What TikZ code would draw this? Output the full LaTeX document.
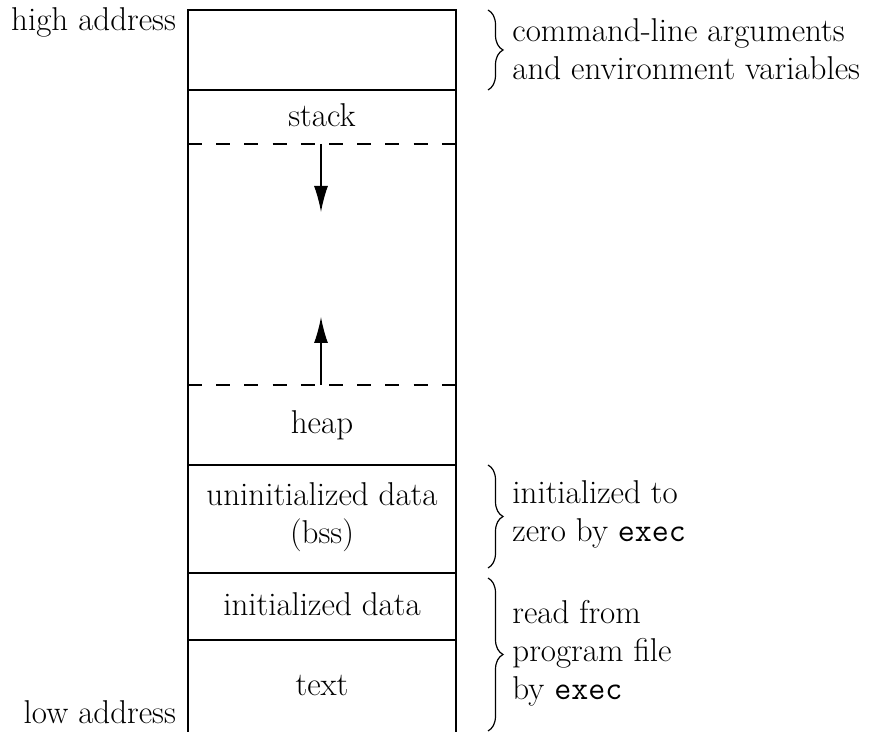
\documentclass[tikz,border=0pt]{standalone}
\usetikzlibrary{arrows.meta,decorations.pathreplacing,positioning}
\begin{document}
\begin{tikzpicture}[x=0.5pt,y=-0.5pt,font=\fontsize{16.5}{19}\selectfont,
  seg/.style={align=center},
  side/.style={align=left,anchor=west,inner sep=1pt},
  wall/.style={line width=0.8pt},
  curly/.style={decorate,decoration={brace,amplitude=7.5pt},line width=0.6pt}]

\useasboundingbox (0,0) rectangle (869,732);

% memory column
\draw[wall] (188,732) -- (188,10) -- (456,10) -- (456,732);
\foreach \y in {90,465,573,640}
  \draw[wall] (188,\y) -- (456,\y);
\foreach \y in {144,385}
  \draw[line width=0.7pt,dash pattern=on 7pt off 7.1pt] (188,\y) -- (456,\y);

% segment names
\node[seg] (stack) at (322,115) {stack};
\node[seg] (heap) at (322,425) {heap};
\node[seg] (bss) at (322,517) {uninitialized data\\(bss)};
\node[seg] (idata) at (322,604) {initialized data};
\node[seg] (text) at (322,685) {text};

\node[anchor=east] (high) at (183,22) {high address};
\node[anchor=east] (low) at (183,712) {low address};

% growth arrows
\coordinate (stacktop) at (321,144);
\coordinate (stackend) at (321,212);
\coordinate (heaptop) at (321,385);
\coordinate (heapend) at (321,317);
\draw[line width=0.7pt,-{Latex[length=13pt,width=7pt]}] (stacktop) -- (stackend);
\draw[line width=0.7pt,-{Latex[length=13pt,width=7pt]}] (heaptop) -- (heapend);

% braces
\coordinate (b1a) at (488,10);
\coordinate (b1b) at (488,90);
\coordinate (b2a) at (488,465);
\coordinate (b2b) at (488,568);
\coordinate (b3a) at (488,578);
\coordinate (b3b) at (488,731);
\draw[curly] (b1a) -- (b1b);
\draw[curly] (b2a) -- (b2b);
\draw[curly] (b3a) -- (b3b);

\node[side] (args) at (510,49) {command-line arguments\\and environment variables};
\node[side] (zero) at (510,514) {initialized to\\zero by \texttt{exec}};
\node[side] (prog) at (510,653) {read from\\program file\\by \texttt{exec}};

\end{tikzpicture}
\end{document}
